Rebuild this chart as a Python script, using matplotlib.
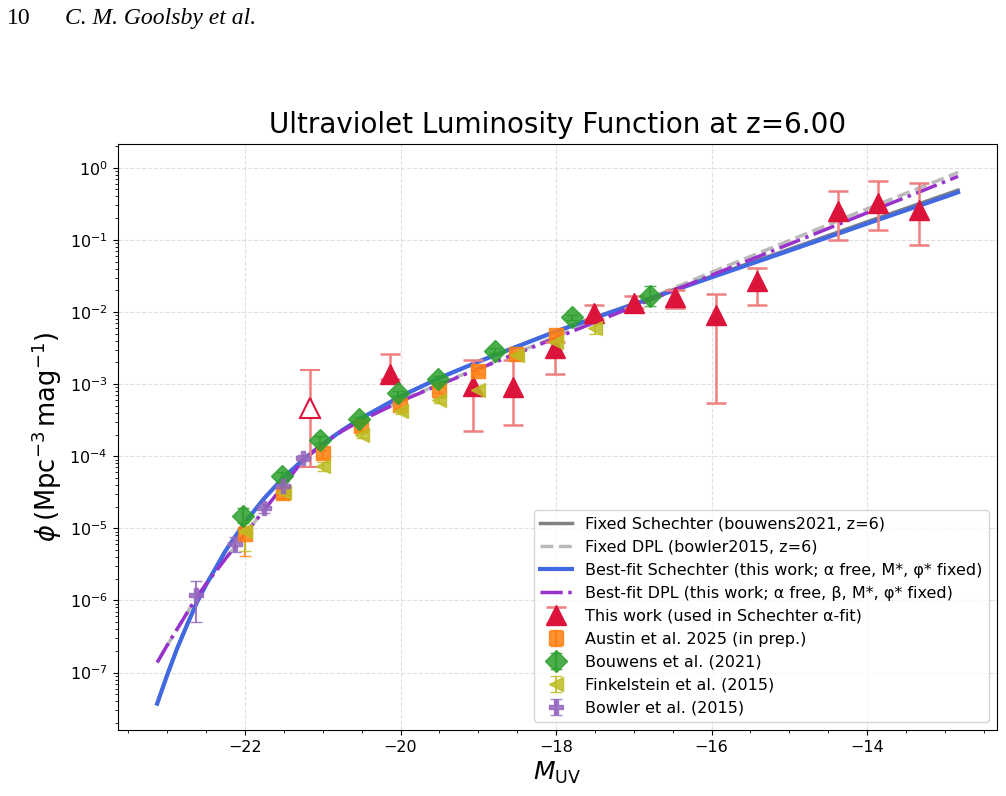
import numpy as np
import matplotlib
matplotlib.use("Agg")
import matplotlib.pyplot as plt
from matplotlib.ticker import MultipleLocator

# curves (log10 phi)
m_curve = [-23.13, -23.0, -22.875, -22.75, -22.625, -22.5, -22.25, -22.0, -21.75, -21.5,
           -21.25, -21.0, -20.75, -20.5, -20.0, -19.5, -19.0, -18.5, -18.0, -17.0,
           -16.0, -15.0, -14.0, -13.0, -12.83]
log_sch_fixed = [-7.43, -7.03, -6.67, -6.35, -6.04, -5.78, -5.31, -4.915, -4.58, -4.29,
                 -4.045, -3.83, -3.64, -3.47, -3.17, -2.915, -2.69, -2.475, -2.265, -1.885,
                 -1.505, -1.13, -0.75, -0.375, -0.31]
log_sch_fit = [-7.43, -7.03, -6.67, -6.35, -6.04, -5.78, -5.31, -4.915, -4.58, -4.29,
               -4.045, -3.83, -3.64, -3.47, -3.17, -2.915, -2.69, -2.48, -2.27, -1.895,
               -1.52, -1.15, -0.775, -0.405, -0.34]
log_dpl_fixed = [-6.86, -6.62, -6.40, -6.18, -5.96, -5.77, -5.42, -5.08, -4.74, -4.40,
                 -4.05, -3.83, -3.65, -3.50, -3.23, -3.00, -2.78, -2.56, -2.34, -1.90,
                 -1.45, -1.01, -0.57, -0.14, -0.065]
log_dpl_fit = [-6.86, -6.62, -6.40, -6.18, -5.96, -5.77, -5.42, -5.08, -4.74, -4.40,
               -4.05, -3.83, -3.65, -3.50, -3.24, -3.01, -2.79, -2.575, -2.36, -1.925,
               -1.49, -1.06, -0.625, -0.195, -0.12]

# this work
m_tw = [-20.13, -19.07, -18.56, -18.02, -17.51, -17.00, -16.47, -15.94, -15.42, -14.37, -13.86, -13.33]
log_tw = [-2.86, -3.03, -3.04, -2.50, -2.01, -1.875, -1.79, -2.04, -1.576, -0.607, -0.49, -0.583]
log_tw_lo = [-2.93, -3.644, -3.57, -2.855, -2.10, -1.95, -1.945, -3.26, -1.91, -0.999, -0.86, -1.068]
log_tw_hi = [-2.58, -2.67, -2.66, -2.42, -1.90, -1.775, -1.70, -1.746, -1.39, -0.32, -0.19, -0.213]
# excluded point (open symbol)
m_ex = [-21.17]
log_ex = [-3.33]
log_ex_lo = [-4.15]
log_ex_hi = [-2.81]

# Austin et al. 2025
m_au = [-22.0, -21.51, -21.0, -20.51, -20.01, -19.51, -19.01, -18.51, -18.0]
log_au = [-5.08, -4.507, -3.96, -3.585, -3.284, -3.076, -2.823, -2.578, -2.315]
log_au_lo = [-5.385, -4.58, -4.02, -3.64, -3.33, -3.12, -2.86, -2.61, -2.345]
log_au_hi = [-4.97, -4.44, -3.91, -3.54, -3.24, -3.04, -2.79, -2.55, -2.29]

# Bouwens et al. 2021
m_bo = [-22.03, -21.52, -21.03, -20.53, -20.03, -19.52, -18.78, -17.79, -16.79]
log_bo = [-4.83, -4.277, -3.77, -3.49, -3.122, -2.924, -2.536, -2.074, -1.774]
log_bo_lo = [-4.93, -4.34, -3.82, -3.53, -3.16, -2.96, -2.57, -2.11, -1.922]
log_bo_hi = [-4.72, -4.22, -3.72, -3.45, -3.09, -2.89, -2.50, -2.04, -1.645]

# Finkelstein et al. 2015
m_fi = [-22.0, -21.5, -21.0, -20.5, -20.0, -19.5, -19.0, -18.5, -18.0, -17.5]
log_fi = [-5.04, -4.50, -4.14, -3.70, -3.377, -3.224, -3.076, -2.59, -2.42, -2.22]
log_fi_lo = [-5.32, -4.60, -4.20, -3.75, -3.42, -3.26, -3.11, -2.62, -2.45, -2.31]
log_fi_hi = [-4.90, -4.42, -4.08, -3.65, -3.34, -3.19, -3.04, -2.56, -2.39, -2.15]

# Bowler et al. 2015
m_bw = [-22.63, -22.13, -21.76, -21.51, -21.26]
log_bw = [-5.93, -5.22, -4.724, -4.415, -4.02]
log_bw_lo = [-6.30, -5.33, -4.79, -4.47, -4.06]
log_bw_hi = [-5.73, -5.12, -4.66, -4.36, -3.98]


def errs(y, lo, hi):
    y, lo, hi = np.array(y), np.array(lo), np.array(hi)
    return 10**y, [10**y - 10**lo, 10**hi - 10**y]


fig = plt.figure(figsize=(10.06, 7.96), dpi=100)
ax = fig.add_axes([0.1168, 0.0829, 0.8742, 0.7358])

ax.plot(m_curve, 10**np.array(log_sch_fixed), color='gray', lw=2.5, label='Fixed Schechter (bouwens2021, z=6)')
ax.plot(m_curve, 10**np.array(log_dpl_fixed), color='darkgray', lw=2.5, ls='--', alpha=0.8,
        label='Fixed DPL (bowler2015, z=6)')
ax.plot(m_curve, 10**np.array(log_sch_fit), color='royalblue', lw=3,
        label='Best-fit Schechter (this work; α free, M*, φ* fixed)')
ax.plot(m_curve, 10**np.array(log_dpl_fit), color='darkorchid', lw=2.5, ls='-.',
        label='Best-fit DPL (this work; α free, β, M*, φ* fixed)')

y, e = errs(log_tw, log_tw_lo, log_tw_hi)
ax.errorbar(m_tw, y, yerr=e, fmt='^', ms=15, color='crimson', ecolor='lightcoral', elinewidth=1.8,
            capsize=7, capthick=1.8, label='This work (used in Schechter α-fit)')
y, e = errs(log_ex, log_ex_lo, log_ex_hi)
ax.errorbar(m_ex, y, yerr=e, fmt='^', ms=15, mfc='white', mec='crimson', mew=1.5,
            ecolor='lightcoral', elinewidth=1.8, capsize=7, capthick=1.8)

y, e = errs(log_au, log_au_lo, log_au_hi)
ax.errorbar(m_au, y, yerr=e, fmt='s', ms=10.5, color='tab:orange', alpha=0.85, capsize=4,
            label='Austin et al. 2025 (in prep.)')
y, e = errs(log_bo, log_bo_lo, log_bo_hi)
ax.errorbar(m_bo, y, yerr=e, fmt='D', ms=11, color='tab:green', alpha=0.85, capsize=4,
            label='Bouwens et al. (2021)')
y, e = errs(log_fi, log_fi_lo, log_fi_hi)
ax.errorbar(m_fi, y, yerr=e, fmt='<', ms=10.5, color='tab:olive', alpha=0.85, capsize=4,
            label='Finkelstein et al. (2015)')
y, e = errs(log_bw, log_bw_lo, log_bw_hi)
ax.errorbar(m_bw, y, yerr=e, fmt='P', ms=10, color='tab:purple', alpha=0.85, capsize=4,
            label='Bowler et al. (2015)')

ax.set_yscale('log')
ax.set_xlim(-23.64, -12.33)
ax.set_ylim(1.6e-8, 2.11)
ax.xaxis.set_major_locator(MultipleLocator(2))
ax.xaxis.set_minor_locator(MultipleLocator(0.5))
ax.tick_params(labelsize=11.5)
ax.grid(True, which='major', ls='--', color='lightgray', alpha=0.7)
ax.set_xlabel(r'$M_{\rm UV}$', fontsize=18)
ax.set_ylabel(r'$\phi\,(\mathrm{Mpc^{-3}\,mag^{-1}})$', fontsize=18.5)
ax.set_title('Ultraviolet Luminosity Function at z=6.00', fontsize=20, pad=8)
ax.legend(loc='lower right', fontsize=11.5)

fig.text(0.007, 0.970, '10', family='Liberation Serif', fontsize=17)
fig.text(0.065, 0.970, 'C. M. Goolsby et al.', family='Liberation Serif', style='italic', fontsize=17)

fig.savefig('out.png', dpi=100)
